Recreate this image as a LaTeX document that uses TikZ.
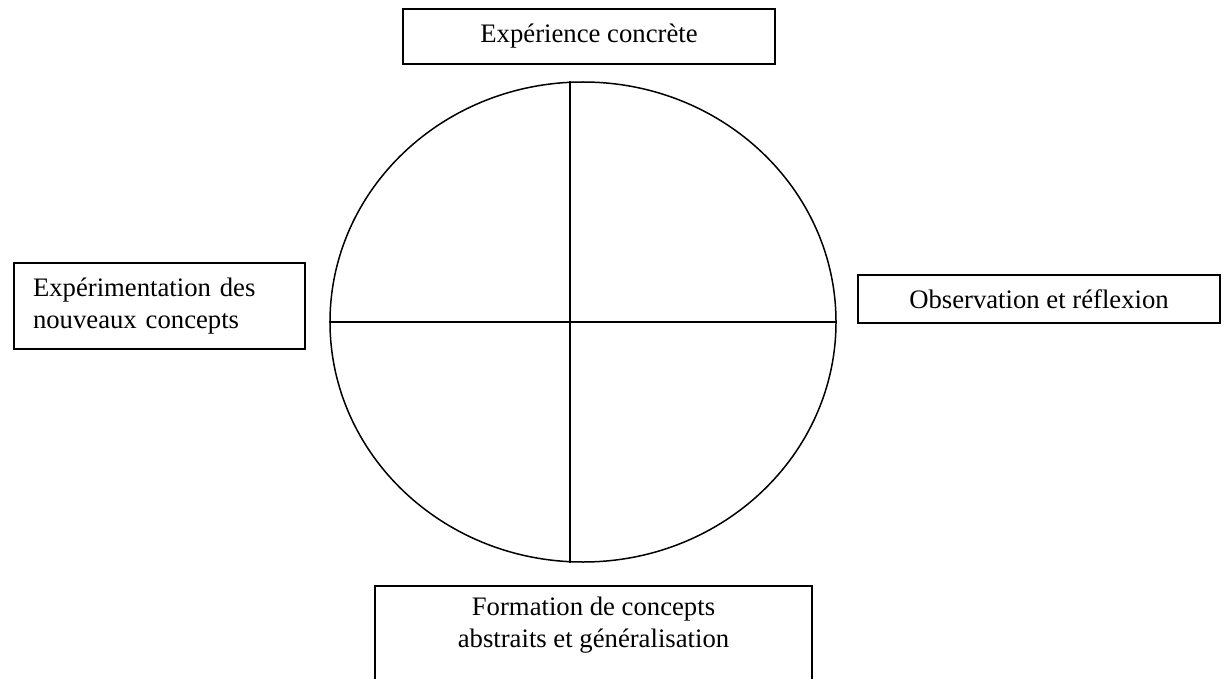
\documentclass[tikz,border=0pt]{standalone}
\usepackage{fontspec}
\setmainfont{Liberation Serif}
\usetikzlibrary{shapes.geometric}
\begin{document}
\begin{tikzpicture}[x=1pt,y=-1pt,
  box/.style={draw,line width=1.5pt,rectangle,inner sep=0pt,
    font=\fontsize{26.7}{32}\selectfont},
  lbl/.style={inner sep=0pt,font=\fontsize{26.7}{32}\selectfont,align=center},
  ln/.style={line width=1.5pt}]
\useasboundingbox (0,0) rectangle (1225,679);
\clip (0,0) rectangle (1225,679);
\fill[white] (0,0) rectangle (1225,679);
% circle
\node[draw,ln,ellipse,minimum width=506pt,minimum height=480pt,inner sep=0pt] (c) at (583,322) {};
\draw[ln] ([xshift=-13pt]c.north) -- ([xshift=-13pt]c.south);
\draw[ln] (c.west) -- (c.east);
% boxes
\node[box,minimum width=372pt,minimum height=55pt] (top) at (589,36.5) {Expérience concrète};
\node[box,minimum width=362pt,minimum height=48pt] (right) at (1039,299) {Observation et réflexion};
\node[box,minimum width=291pt,minimum height=86pt,align=left,text width=253pt] (left) at (159.5,306) {Expérimentation des\\nouveaux concepts};
\node[box,minimum width=437pt,minimum height=130pt,anchor=north] (bottom) at (593.5,585) {};
\node[lbl] (btext) at (593.5,625) {Formation de concepts\\abstraits et généralisation};
\end{tikzpicture}
\end{document}
